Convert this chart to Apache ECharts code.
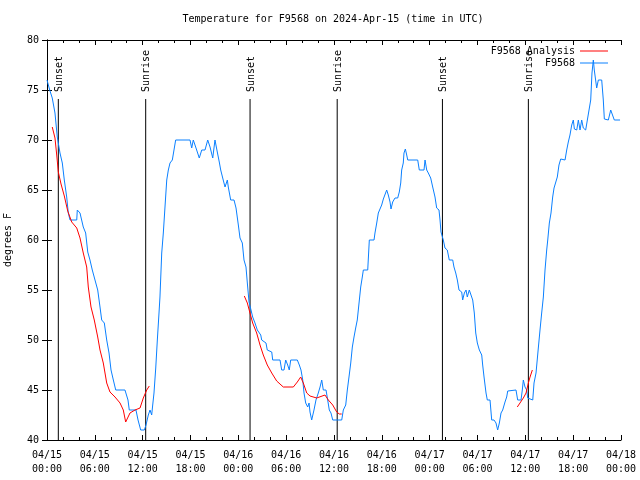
<!DOCTYPE html>
<html>
<head>
<meta charset="utf-8">
<script src="https://cdn.jsdelivr.net/npm/echarts@6/dist/echarts.min.js"></script>
<style>html,body{margin:0;padding:0;background:#fff;}#c{width:640px;height:480px;}</style>
</head>
<body>
<div id="c"></div>
<script>
// Hours since 2024-04-15 00:00 UTC
const obsHours = [0,0.34,0.66,1.0,1.29,1.63,1.92,2.17,2.47,2.67,2.89,3.73,3.80,4.14,4.55,4.85,5.11,5.39,5.68,6.02,6.36,6.65,6.86,7.19,7.49,7.78,8.03,8.32,8.62,9.78,9.97,10.16,10.32,11.16,11.42,11.75,12.21,12.42,12.71,12.92,13.13,13.26,13.42,13.64,13.84,14.05,14.17,14.39,14.59,14.80,15.02,15.22,15.43,15.72,15.93,16.14,17.94,18.15,18.35,18.69,19.10,19.41,19.82,20.16,20.45,20.79,21.07,21.36,21.61,21.79,22.04,22.33,22.62,22.74,23.04,23.46,23.71,24.00,24.21,24.50,24.71,24.96,25.13,25.34,25.59,25.80,26.09,26.38,26.81,26.93,27.47,27.63,28.19,28.31,29.23,29.44,29.73,29.94,30.19,30.39,30.57,31.40,31.65,31.86,32.08,32.24,32.45,32.70,32.87,32.99,33.20,33.49,33.74,34.03,34.25,34.46,34.66,35.00,35.21,35.41,35.62,35.84,36.97,37.17,37.47,37.67,37.88,38.10,38.30,38.51,38.72,38.92,39.14,39.35,39.55,39.68,40.23,40.43,41.02,41.14,41.36,41.56,41.77,41.98,42.19,42.40,42.61,42.81,43.03,43.15,43.36,43.65,43.99,44.19,44.37,44.49,44.69,44.78,44.95,45.12,45.25,46.50,46.70,47.29,47.42,47.63,47.83,48.13,48.38,48.67,48.88,49.17,49.30,49.42,49.71,49.92,50.21,50.46,50.89,51.05,51.27,51.47,51.68,52.02,52.14,52.35,52.56,52.72,52.97,53.19,53.40,53.60,53.78,53.98,54.23,54.53,54.65,54.82,55.07,55.23,55.57,55.78,56.07,56.32,56.53,56.74,56.95,57.16,57.45,57.66,57.79,58.83,59.04,59.46,59.62,59.75,59.96,60.17,60.30,60.46,60.93,61.09,61.34,61.63,61.84,62.05,62.26,62.47,62.68,62.81,63.01,63.22,63.43,63.60,63.85,64.01,64.22,64.44,64.98,65.19,65.39,65.60,65.82,66.02,66.15,66.45,66.65,66.86,67.07,67.27,67.57,67.78,68.03,68.20,68.36,68.53,68.65,68.95,69.16,69.58,69.78,69.91,70.41,70.71,70.96,71.16,71.88];
const obsTemps = [76,75,74.2,72.7,70.3,68.7,67.7,66,64.3,62.7,62,62,63,62.7,61.3,60.7,58.8,58,57,56,55,53.3,52,51.7,50,48.7,47,46,45,45,44.5,44,43,43,42,41,41,41.5,42.5,43,42.5,43.5,44.7,47.2,50,52.7,54.3,58.7,60.7,63.3,66,67,67.7,68,69,70,70,69.2,70,69.2,68.2,69,69,70,69.3,68.2,70,68.8,67.8,67,66.2,65.3,66,65.3,64,64,63.2,61.5,60.2,59.7,58,57.3,55.7,53.8,53,52.3,51.7,51,50.5,50,49.7,49,48.8,48,48,47,47,48,47.5,47,48,48,47.5,47,46,44.7,43.7,43.3,43.7,42.8,42,43,44,44.7,45.3,46,45,45,44,43,42.7,42,42,43,43.5,45,46.3,47.7,49.3,50.3,51.2,52,53.7,55.3,56.3,57,57,60,60,60.7,61.7,62.7,63.1,63.5,64.1,64.2,65,64.5,63.8,63.1,63.8,64.2,64.2,64.8,65.7,67,67.7,68.7,69.1,68.5,68,68,67,67,68,67,66.7,66.2,65.3,64.3,63.2,63,62,60.8,60,59.2,59,58,58,57.3,56.7,56,55,54.8,54,54.7,55,54.3,55,54.8,54,52.7,50.7,49.7,49,48.5,47.5,46.3,44.7,44,44,42,42,41.7,41,41.7,42.7,43,43.8,44.3,44.9,45,44,44,45,46,45.3,45,44.2,44,44,45.7,46.7,49.2,51,52.7,54.3,57,59,60,61.7,62.7,64.3,65.2,65.3,66.3,67.5,68.1,68,69,69.8,70.5,71.5,72,71.1,71,72,71,72,71.2,71,72,72,74,76.7,78,77,75.2,76,76,74,72.1,72,73,73,72,72];

const anaHours = [0.66,1.0,1.22,1.42,1.76,2.17,2.60,3.10,3.73,4.14,4.55,4.98,5.18,5.52,5.93,6.36,6.65,7.06,7.49,7.90,8.53,9.16,9.57,9.87,10.41,11.04,11.67,12.08,12.51,12.83,18.0,24.75,25.13,25.46,25.80,26.30,26.72,27.13,27.63,28.19,28.81,29.64,30.90,31.40,31.82,32.15,32.58,32.99,33.83,34.87,35.29,35.84,36.34,36.67,36.97,48.0,58.99,59.33,59.75,60.09,60.38,60.59,60.88];
const anaTemps = [71.3,70.2,68.5,66.8,65.6,64.4,62.9,61.8,61.2,60.2,58.7,57.3,55.3,53.3,52,50.3,49,47.7,45.7,44.8,44.3,43.7,43,41.8,42.7,43,43.2,44.2,45,45.4,null,54.4,53.7,52.7,51.7,50.7,49.5,48.5,47.5,46.7,45.9,45.3,45.3,45.8,46.3,45.7,44.7,44.4,44.2,44.5,44,43.5,42.8,42.6,42.6,null,43.3,43.7,44.2,44.7,45.7,46.3,47];

const sunHours = [1.42, 12.38, 25.47, 36.40, 49.60, 60.38];
const sunLabels = ['Sunset','Sunrise','Sunset','Sunrise','Sunset','Sunrise'];
const sunLineTop = 74.1;

const xTickLabels = ['04/15\n00:00','04/15\n06:00','04/15\n12:00','04/15\n18:00','04/16\n00:00','04/16\n06:00','04/16\n12:00','04/16\n18:00','04/17\n00:00','04/17\n06:00','04/17\n12:00','04/17\n18:00','04/18\n00:00'];

const FONT = 'DejaVu Sans Mono';
const obsData = obsHours.map((h,i)=>[h, obsTemps[i]]);
const anaData = anaHours.map((h,i)=>[h, anaTemps[i]===null ? '-' : anaTemps[i]]);
const sunData = sunHours.map(h=>[h, sunLineTop]);

const chart = echarts.init(document.getElementById('c'), null, {renderer:'canvas'});
const axisCommon = {
  axisLine:{show:true, lineStyle:{color:'#000', width:1}},
  splitLine:{show:false}
};
chart.setOption({
  animation:false,
  backgroundColor:'#fff',
  title:{text:'Temperature for F9568 on 2024-Apr-15 (time in UTC)', left:328, top:9, textAlign:'center',
    textStyle:{fontFamily:FONT, fontSize:10, fontWeight:'normal', color:'#000'}},
  legend:{data:['F9568 Analysis','F9568'], orient:'vertical', right:27, top:40, align:'right',
    icon:'rect', itemWidth:28, itemHeight:1, itemGap:0,
    textStyle:{fontFamily:FONT, fontSize:10, color:'#000', lineHeight:12}},
  grid:{left:47, right:19, top:40, bottom:40, outerBoundsMode:'none', containLabel:false},
  xAxis:[
    Object.assign({type:'value', min:0, max:72, interval:6, position:'bottom',
      axisTick:{show:true, inside:true, length:5, lineStyle:{color:'#000'}},
      minorTick:{show:true, splitNumber:3, length:3, lineStyle:{color:'#000'}},
      axisLabel:{fontFamily:FONT, fontSize:10, color:'#000', margin:8, lineHeight:14,
        formatter:(v)=>xTickLabels[Math.round(v/6)]}}, axisCommon),
    Object.assign({type:'value', min:0, max:72, interval:6, position:'top',
      axisTick:{show:true, inside:true, length:5, lineStyle:{color:'#000'}},
      minorTick:{show:true, splitNumber:3, length:3, lineStyle:{color:'#000'}},
      axisLabel:{show:false}}, axisCommon)
  ],
  yAxis:[
    Object.assign({type:'value', min:40, max:80, interval:5, position:'left',
      name:'degrees F', nameLocation:'middle', nameRotate:90, nameGap:34,
      nameTextStyle:{fontFamily:FONT, fontSize:10, color:'#000'},
      axisTick:{show:true, inside:true, length:5, lineStyle:{color:'#000'}},
      axisLabel:{fontFamily:FONT, fontSize:10, color:'#000', margin:8}}, axisCommon),
    Object.assign({type:'value', min:40, max:80, interval:5, position:'right',
      axisTick:{show:true, inside:true, length:5, lineStyle:{color:'#000'}},
      axisLabel:{show:false}}, axisCommon)
  ],
  series:[
    {type:'custom', name:'sun', xAxisIndex:0, yAxisIndex:0, data:sunData, clip:false, silent:true,
      renderItem:function(params, api){
        const h = api.value(0);
        const top = api.coord([h, api.value(1)]);
        const bot = api.coord([h, 40]);
        return {type:'group', children:[
          {type:'line', shape:{x1:top[0], y1:top[1], x2:bot[0], y2:bot[1]}, style:{stroke:'#000', lineWidth:1}},
          {type:'text', x:top[0]+1, y:top[1]-7, rotation:Math.PI/2,
            style:{text:sunLabels[params.dataIndex], textAlign:'left', textVerticalAlign:'middle',
              font:'10px "DejaVu Sans Mono"', fill:'#000'}}
        ]};
      }},
    {type:'line', name:'F9568', data:obsData, showSymbol:false, symbol:'none',
      lineStyle:{color:'#0a80ff', width:1}, itemStyle:{color:'#0a80ff'}},
    {type:'line', name:'F9568 Analysis', data:anaData, showSymbol:false, symbol:'none', connectNulls:false,
      lineStyle:{color:'#ff0000', width:1}, itemStyle:{color:'#ff0000'}}
  ]
});
</script>
</body>
</html>
